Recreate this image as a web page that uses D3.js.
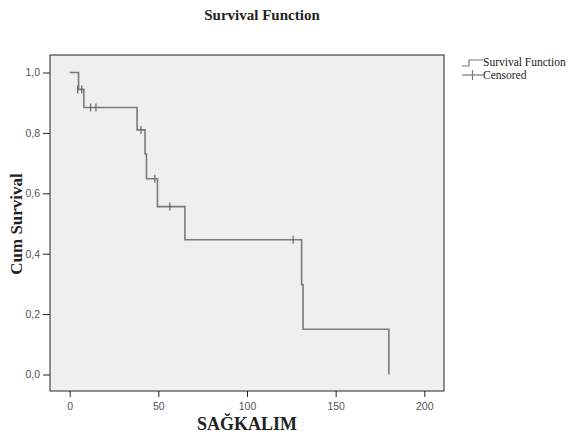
<!DOCTYPE html>
<html>
<head>
<meta charset="utf-8">
<script src="https://cdn.jsdelivr.net/npm/d3@7"></script>
<style>
  body { margin: 0; background: #fff; }
</style>
</head>
<body>
<svg id="chart"></svg>
<script>
// step points of the survival curve (time, cum survival after the step)
const stepTimes = [0, 5, 8, 38, 42.5, 43.3, 49.5, 65, 130.8, 131.6, 180];
const stepSurv  = [1.0, 0.944, 0.884, 0.81, 0.73, 0.648, 0.556, 0.446, 0.297, 0.15, 0.0];
// censored observations
const censorTimes = [4.5, 6.8, 11.8, 14.8, 40.2, 48, 56.5, 126];
const censorSurv  = [0.944, 0.944, 0.884, 0.884, 0.81, 0.648, 0.556, 0.446];
const xTicks = [0, 50, 100, 150, 200];
const yTicks = [0, 0.2, 0.4, 0.6, 0.8, 1.0];

const width = 570, height = 438;
const box = { left: 50, right: 444, top: 55, bottom: 391 };
const lineColor = "#7a7a7a";

const svg = d3.select("#chart")
    .attr("width", width)
    .attr("height", height);

const xscale = d3.scaleLinear().domain([0, 200]).range([69.7, 424.3]);
const yscale = d3.scaleLinear().domain([0, 1]).range([374.5, 72.5]);

// plot area
svg.append("rect")
    .attr("x", box.left)
    .attr("y", box.top)
    .attr("width", box.right - box.left)
    .attr("height", box.bottom - box.top)
    .attr("fill", "#efefef")
    .attr("stroke", "#222")
    .attr("stroke-width", 1);

// axes
const xaxis = d3.axisBottom(xscale)
    .tickValues(xTicks)
    .tickSize(6)
    .tickPadding(6)
    .tickSizeOuter(0);
const yaxis = d3.axisLeft(yscale)
    .tickValues(yTicks)
    .tickSize(7)
    .tickPadding(3)
    .tickFormat(d => d3.format(".1f")(d).replace(".", ","));

const gx = svg.append("g")
    .attr("transform", `translate(0, ${box.bottom})`)
    .call(xaxis);
const gy = svg.append("g")
    .attr("transform", `translate(${box.left}, 0)`)
    .call(yaxis);

[gx, gy].forEach(g => {
    g.select(".domain").remove();
    g.selectAll("line").attr("stroke", "#222");
    g.selectAll("text")
        .attr("fill", "#555")
        .style("font-family", "'Liberation Sans', Arial, sans-serif")
        .style("font-size", "10.5px");
});

// survival step line
const stepData = stepTimes.map((t, i) => ({ t: t, s: stepSurv[i] }));
const line = d3.line()
    .x(d => xscale(d.t))
    .y(d => yscale(d.s))
    .curve(d3.curveStepAfter);

svg.append("path")
    .datum(stepData)
    .attr("d", line)
    .attr("fill", "none")
    .attr("stroke", lineColor)
    .attr("stroke-width", 1.6);

// censor marks
const censorData = censorTimes.map((t, i) => ({ t: t, s: censorSurv[i] }));
svg.append("g")
    .selectAll("line")
    .data(censorData)
    .join("line")
    .attr("x1", d => xscale(d.t))
    .attr("x2", d => xscale(d.t))
    .attr("y1", d => yscale(d.s) - 4)
    .attr("y2", d => yscale(d.s) + 4)
    .attr("stroke", "#666")
    .attr("stroke-width", 1.2);

// title and axis labels
svg.append("text")
    .attr("x", 262)
    .attr("y", 20)
    .attr("text-anchor", "middle")
    .style("font-family", "'Liberation Serif', 'Times New Roman', serif")
    .style("font-weight", "bold")
    .style("font-size", "15px")
    .attr("fill", "#222")
    .text("Survival Function");

svg.append("text")
    .attr("x", 247)
    .attr("y", 430)
    .attr("text-anchor", "middle")
    .style("font-family", "'Liberation Serif', 'Times New Roman', serif")
    .style("font-weight", "bold")
    .style("font-size", "18px")
    .attr("fill", "#222")
    .text("SAĞKALIM");

svg.append("text")
    .attr("transform", "rotate(-90)")
    .attr("x", -224)
    .attr("y", 22)
    .attr("text-anchor", "middle")
    .style("font-family", "'Liberation Serif', 'Times New Roman', serif")
    .style("font-weight", "bold")
    .style("font-size", "17px")
    .attr("fill", "#222")
    .text("Cum Survival");

// legend
const legend = svg.append("g").attr("transform", "translate(462, 0)");
legend.append("path")
    .attr("d", "M0,66 H7 V60 H21")
    .attr("fill", "none")
    .attr("stroke", lineColor)
    .attr("stroke-width", 1.2);
legend.append("line")
    .attr("x1", 0).attr("x2", 21)
    .attr("y1", 75).attr("y2", 75)
    .attr("stroke", lineColor)
    .attr("stroke-width", 1.2);
legend.append("line")
    .attr("x1", 10.5).attr("x2", 10.5)
    .attr("y1", 70).attr("y2", 80)
    .attr("stroke", lineColor)
    .attr("stroke-width", 1.2);
legend.selectAll("text.lg")
    .data(["Survival Function", "Censored"])
    .join("text")
    .attr("class", "lg")
    .attr("x", 21)
    .attr("y", (d, i) => 66 + i * 13)
    .style("font-family", "'Liberation Serif', 'Times New Roman', serif")
    .style("font-size", "11.5px")
    .attr("fill", "#222")
    .text(d => d);
</script>
</body>
</html>
